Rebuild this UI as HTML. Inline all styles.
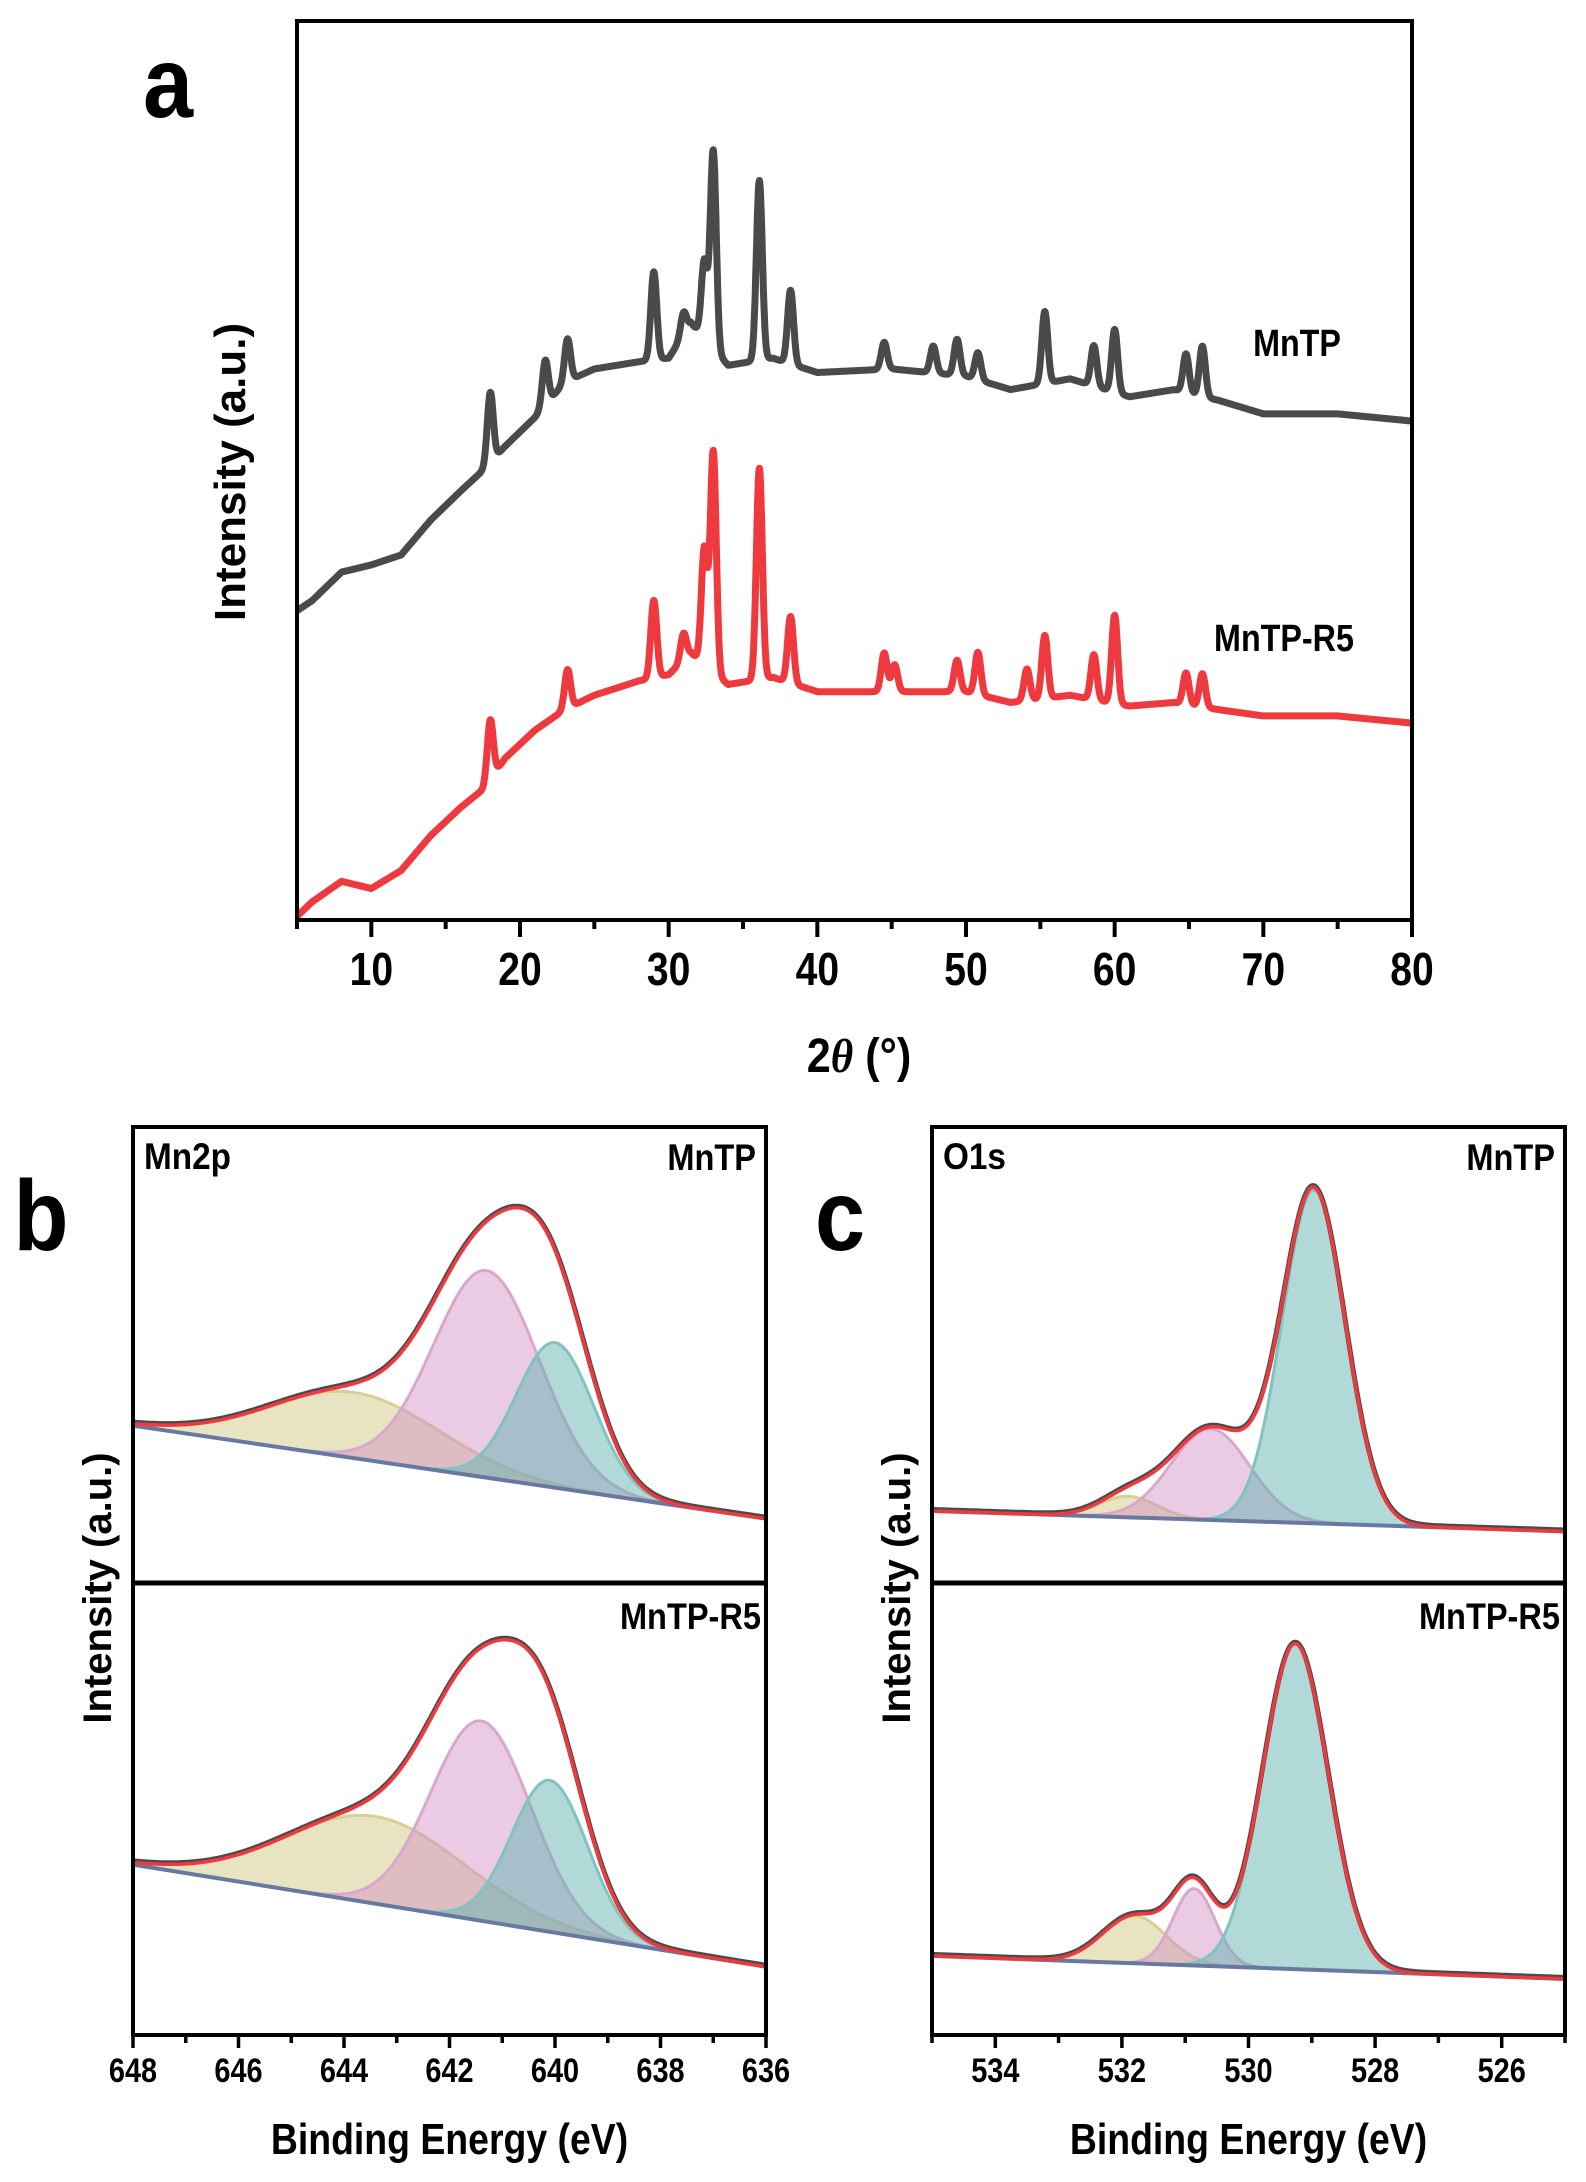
<!DOCTYPE html>
<html><head><meta charset="utf-8"><style>
html,body{margin:0;padding:0;background:#fff;}
svg{display:block;}
text{font-family:"Liberation Sans",sans-serif;font-weight:bold;fill:#000;}
</style></head><body>
<svg id="fig" width="1586" height="2182" viewBox="0 0 1586 2182" xmlns="http://www.w3.org/2000/svg"></svg>
<script>
// ---------- Panel a: XRD data ----------
const xrdBgX = [5,6,8,10,12,14,16,17.5,19,21,23,25,28,30,31.5,34,37,40,45,50,53,57,61,64,67,70,75,80];
const mntpBg = [34.4,35.5,38.7,39.5,40.6,44.5,47.7,50,52.7,55.9,59.8,61.3,62.1,62.5,66.4,61.7,62.5,60.9,61.3,60.5,59,60.2,58.2,59,57.8,56.3,56.3,55.5];
const r5Bg = [0.4,2,4.3,3.5,5.5,9.4,12.5,14.5,18,21.1,23.4,25,26.6,27.3,29.7,26.2,27,25.4,25.4,25.4,24.2,25,23.8,24.2,23.4,22.7,22.7,21.9];
const mntpPeakPos = [18.0,21.7,23.2,29.0,31.0,32.4,33.0,36.1,38.2,44.5,47.8,49.4,50.8,55.3,58.6,60.0,64.8,65.9];
const mntpPeakH   = [7.8,5,4.7,9.8,2.5,8.6,22,20,8.2,3,3,4,3,8,4.5,7,4.3,5.6];
const r5PeakPos = [18.0,23.2,29.0,31.0,32.4,33.0,36.1,38.2,44.5,45.2,49.4,50.8,54.1,55.3,58.6,60.0,64.8,65.9];
const r5PeakH   = [6.6,4.3,8.6,3,12.9,24.5,23.5,7.4,4.3,3,3.5,4.7,3.5,7,5,9.8,3.5,3.7];
const xrdTicks = [10,20,30,40,50,60,70,80];

// ---------- Panels b/c: XPS components ----------
const mnTopBase = [0.345,0.141];
const mnTopCenters = [643.8,641.3,640.0];
const mnTopHeights = [0.144,0.454,0.318];
const mnTopSigmas = [1.6,1.0,0.73];
const mnBotBase = [0.377,0.151];
const mnBotCenters = [643.4,641.4,640.1];
const mnBotHeights = [0.193,0.442,0.335];
const mnBotSigmas = [1.7,0.95,0.72];
const oTopBase = [0.158,0.113];
const oTopCenters = [531.9,530.6,528.97];
const oTopHeights = [0.046,0.2,0.731];
const oTopSigmas = [0.45,0.62,0.5];
const oBotBase = [0.175,0.124];
const oBotCenters = [531.8,530.86,529.26];
const oBotHeights = [0.105,0.17,0.72];
const oBotSigmas = [0.5,0.33,0.52];
const mnTicks = [648,646,644,642,640,638,636];
const oTicks = [534,532,530,528,526];

const NS="http://www.w3.org/2000/svg";
const svg=document.getElementById('fig');
function mk(tag,attrs,parent){const e=document.createElementNS(NS,tag);for(const k in attrs)e.setAttribute(k,attrs[k]);(parent||svg).appendChild(e);return e;}
function txt(s,x,y,size,opts){opts=opts||{};const sx=opts.sx||1;
  const t=mk('text',{x:0,y:0,'font-size':size,'text-anchor':opts.anchor||'middle','dominant-baseline':opts.db||'auto',
    transform:`translate(${x},${y})${opts.rot?` rotate(${opts.rot})`:''} scale(${sx},1)`});
  t.textContent=s;return t;}
function interp(xs,ys,x){for(let i=0;i<xs.length-1;i++){if(x<=xs[i+1]){const f=(x-xs[i])/(xs[i+1]-xs[i]);return ys[i]+f*(ys[i+1]-ys[i]);}}return ys[ys.length-1];}

// ---------- Panel a ----------
const A={x0:297,x1:1412,y0:21,y1:920};
const ax=v=>A.x0+(v-5)/75*(A.x1-A.x0);
const ay=v=>A.y1-v/100*(A.y1-A.y0);
function xrdSeries(bg,pp,ph,color,name){
  let d='';
  for(let i=0;i<=3000;i++){const x=5+75*i/3000;let v=interp(xrdBgX,bg,x);
    for(let k=0;k<pp.length;k++){const dx=x-pp[k];v+=ph[k]*Math.exp(-dx*dx/(2*0.2*0.2));}
    d+=(i?'L':'M')+ax(x).toFixed(1)+' '+ay(v).toFixed(1);}
  const p=mk('path',{d:d,fill:'none',stroke:color,'stroke-width':7,'stroke-linejoin':'round'});
  
  
}
xrdSeries(mntpBg,mntpPeakPos,mntpPeakH,'#4a4a4a','mntp-xrd-line');
xrdSeries(r5Bg,r5PeakPos,r5PeakH,'#ee3a3f','mntp-r5-xrd-line');
const fa=mk('rect',{x:A.x0,y:A.y0,width:A.x1-A.x0,height:A.y1-A.y0,fill:'none',stroke:'#000','stroke-width':4});

for(let v=5;v<=80;v+=5){const major=v%10===0;mk('line',{x1:ax(v),x2:ax(v),y1:A.y1,y2:A.y1+(major?17:9),stroke:'#000','stroke-width':4});}
xrdTicks.forEach(v=>{const t=txt(String(v),ax(v),985,46,{sx:0.85});});
let t;
t=mk('text',{x:0,y:0,'font-size':48,'text-anchor':'middle',transform:'translate(859,1072) scale(0.9,1)'});
t.innerHTML='2<tspan font-style="italic" font-family="Liberation Serif">θ</tspan> (°)';

t=txt('Intensity (a.u.)',245,472,44,{rot:-90});
t=txt('a',168,117,100,{sx:0.9});
t=txt('MnTP',1297,356,38,{sx:0.85});
t=txt('MnTP-R5',1284,651,38,{sx:0.85});

// ---------- XPS panels ----------
const fills=['rgba(200,190,110,0.42)','rgba(210,140,195,0.45)','rgba(100,180,178,0.5)'];
const edges=['#d6cf98','#d8a8cc','#80c4c0'];
const compNames=['component-1','component-2','component-3'];
function xpsSub(P,yt,yb,base,cs,hs,ss,name){
  const px=e=>P.x0+(P.e0-e)/(P.e0-P.e1)*(P.x1-P.x0);
  const py=v=>yb-v*(yb-yt);
  const bl=e=>base[0]+(P.e0-e)/(P.e0-P.e1)*(base[1]-base[0]);
  const N=400, E=[];for(let i=0;i<=N;i++)E.push(P.e0-(P.e0-P.e1)*i/N);
  const g=(e,k)=>hs[k]*Math.exp(-(e-cs[k])*(e-cs[k])/(2*ss[k]*ss[k]));
  for(let k=0;k<cs.length;k++){
    let d='';E.forEach((e,i)=>{d+=(i?'L':'M')+px(e).toFixed(1)+' '+py(bl(e)+g(e,k)).toFixed(1);});
    let back='';for(let i=N;i>=0;i--)back+='L'+px(E[i]).toFixed(1)+' '+py(bl(E[i])).toFixed(1);
    const f=mk('path',{d:d+back+'Z',fill:fills[k],stroke:'none'});
    
    const l=mk('path',{d:d,fill:'none',stroke:edges[k],'stroke-width':3});
    
  }
  let bd='M'+px(P.e0)+' '+py(base[0])+'L'+px(P.e1)+' '+py(base[1]);
  const b=mk('path',{d:bd,stroke:'#6878a0','stroke-width':4,fill:'none'});
  
  let env='',raw='';
  E.forEach((e,i)=>{let v=bl(e);for(let k=0;k<cs.length;k++)v+=g(e,k);
    env+=(i?'L':'M')+px(e).toFixed(1)+' '+py(v).toFixed(1);
    raw+=(i?'L':'M')+px(e).toFixed(1)+' '+(py(v)-1.5).toFixed(1);});
  const r=mk('path',{d:raw,fill:'none',stroke:'#4a4a4a','stroke-width':5});
  
  const en=mk('path',{d:env,fill:'none',stroke:'#ee3a3f','stroke-width':3.5});
  
}
function xpsPanel(P,top,bot,ticks,minorStep,letter,elemLabel,pn){
  const mid=1583;
  xpsSub(P,P.y0,mid,top[0],top[1],top[2],top[3],pn+'-mntp');
  xpsSub(P,mid,P.y1,bot[0],bot[1],bot[2],bot[3],pn+'-mntp-r5');
  const fr=mk('rect',{x:P.x0,y:P.y0,width:P.x1-P.x0,height:P.y1-P.y0,fill:'none',stroke:'#000','stroke-width':4});
  
  mk('line',{x1:P.x0,x2:P.x1,y1:mid,y2:mid,stroke:'#000','stroke-width':5});
  const px=e=>P.x0+(P.e0-e)/(P.e0-P.e1)*(P.x1-P.x0);
  for(let e=P.e1;e<=P.e0+1e-6;e+=minorStep){const major=ticks.some(v=>Math.abs(v-e)<1e-6);
    mk('line',{x1:px(e),x2:px(e),y1:P.y1,y2:P.y1+(major?13:8),stroke:'#000','stroke-width':3.5});}
  ticks.forEach(v=>{const tt=txt(String(v),px(v),2082,34,{sx:0.85});});
  const cx=(P.x0+P.x1)/2;
  let q=txt('Binding Energy (eV)',cx,2154,44,{sx:0.85});
  q=txt('Intensity (a.u.)',P.x0-22,1588,40,{rot:-90});
  q=txt(letter,P.x0-92,1250,100,{sx:0.9});
  q=txt(elemLabel,P.x0+11,1169,37,{anchor:'start',sx:0.9});
  q=txt('MnTP',P.x1-10,1170,37,{anchor:'end',sx:0.88});
  q=txt('MnTP-R5',P.x1-5,1629,37,{anchor:'end',sx:0.88});
}
xpsPanel({x0:133,x1:766,y0:1127,y1:2035,e0:648,e1:636},
  [mnTopBase,mnTopCenters,mnTopHeights,mnTopSigmas],[mnBotBase,mnBotCenters,mnBotHeights,mnBotSigmas],
  mnTicks,1,'b','Mn2p','panel-b');
xpsPanel({x0:932,x1:1565,y0:1127,y1:2035,e0:535,e1:525},
  [oTopBase,oTopCenters,oTopHeights,oTopSigmas],[oBotBase,oBotCenters,oBotHeights,oBotSigmas],
  oTicks,1,'c','O1s','panel-c');
</script>
</body></html>
